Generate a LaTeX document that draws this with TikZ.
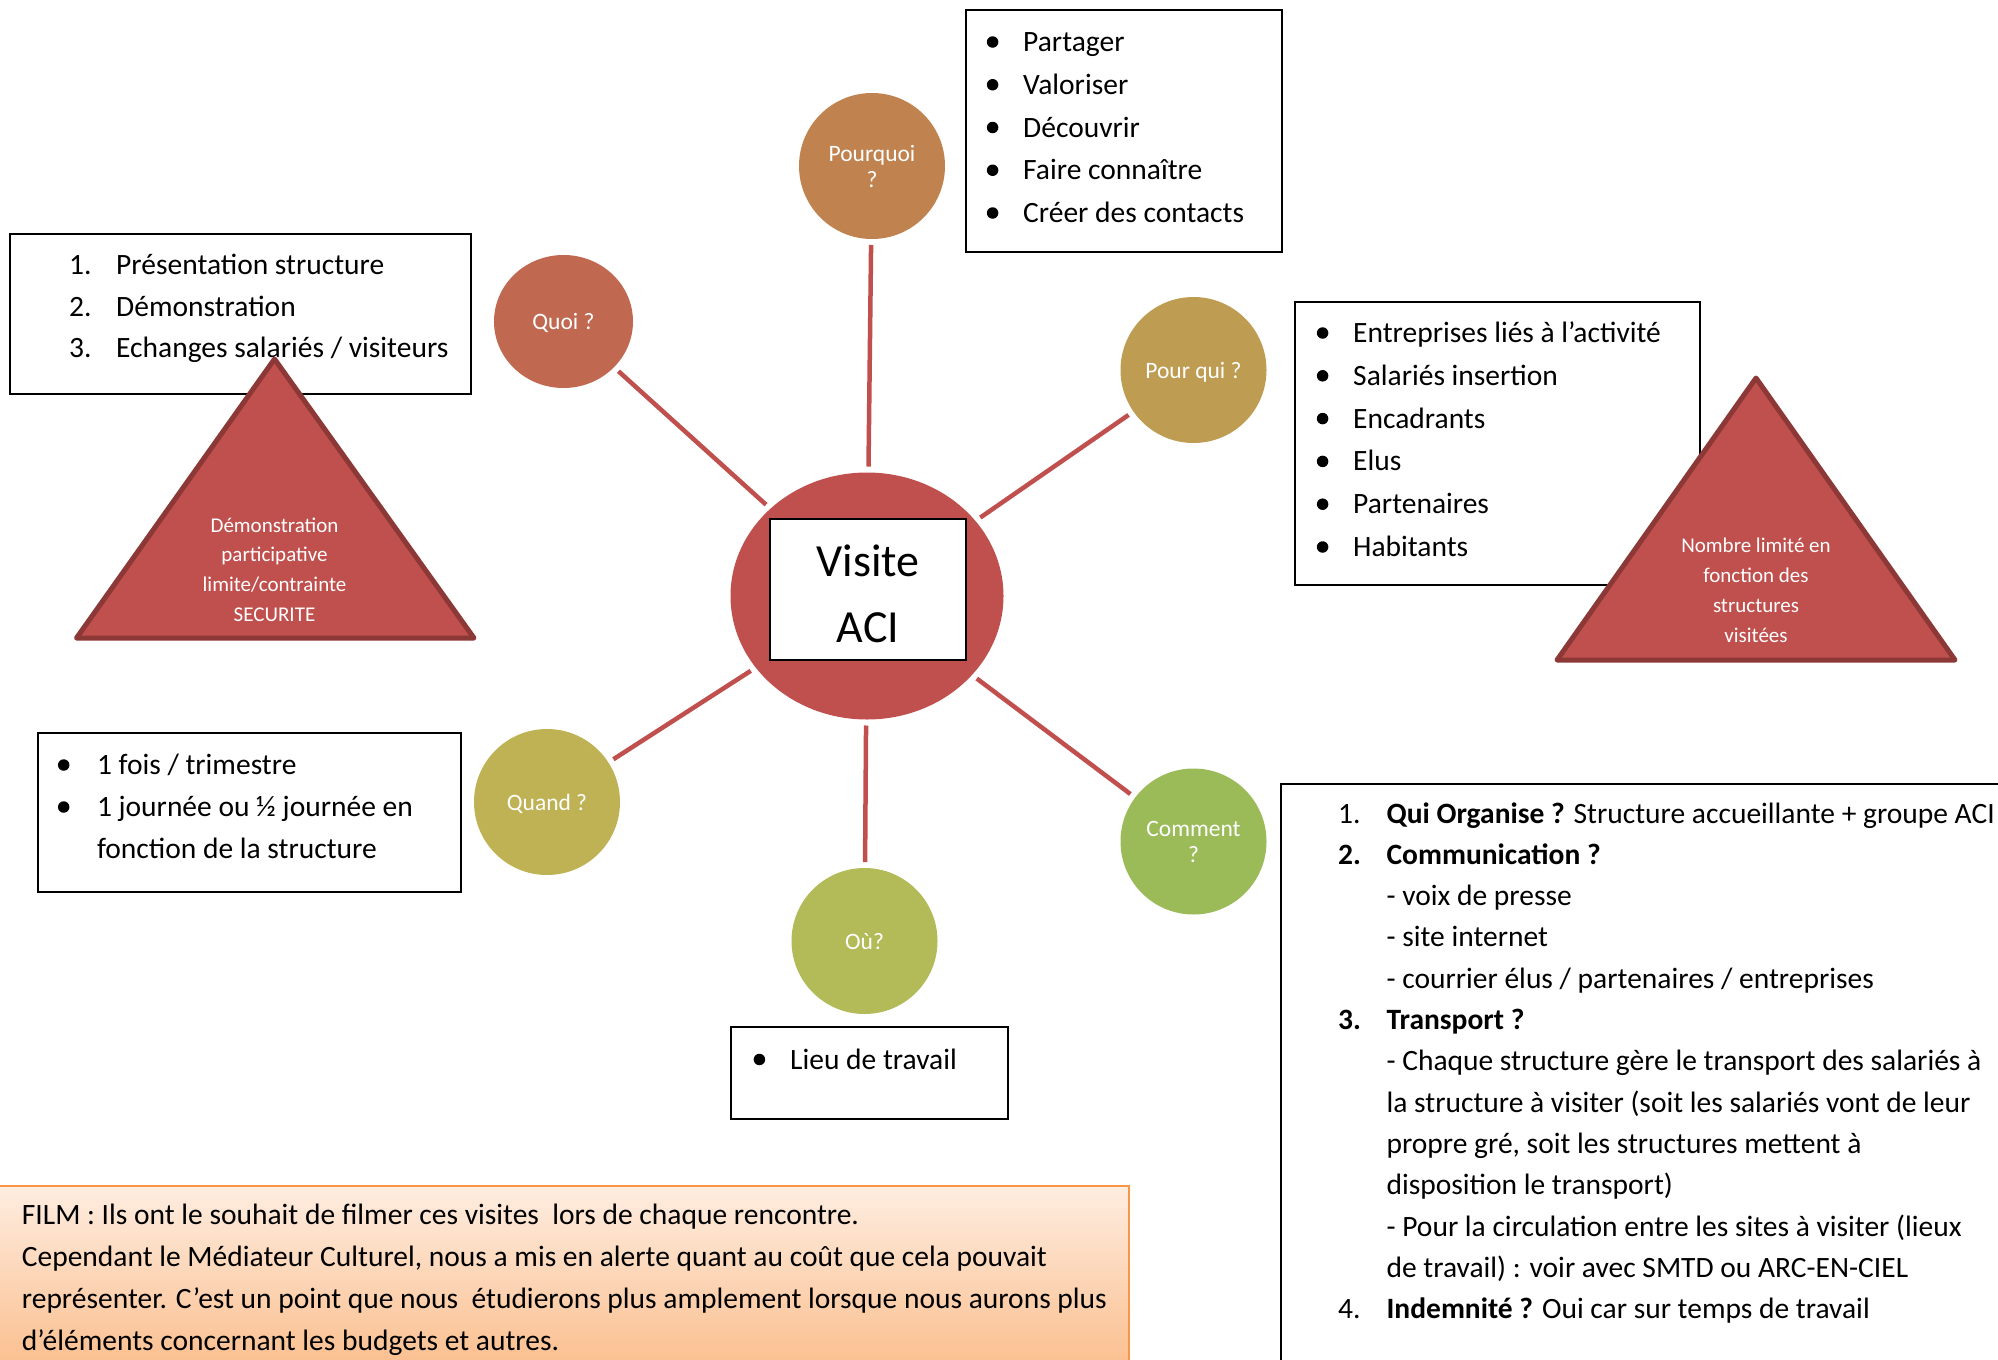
\documentclass[tikz,border=0pt]{standalone}
\usepackage{fontspec}
\setmainfont{Carlito}
\usetikzlibrary{shapes.geometric}
\definecolor{cRed}{HTML}{C0504D}
\definecolor{cRedDark}{HTML}{8C3836}
\definecolor{cQuoi}{HTML}{C06950}
\definecolor{cPourquoi}{HTML}{C08350}
\definecolor{cPourqui}{HTML}{BE9C52}
\definecolor{cComment}{HTML}{9BBB59}
\definecolor{cOu}{HTML}{B2BB58}
\definecolor{cQuand}{HTML}{BFB254}
\definecolor{filmTop}{RGB}{254,237,224}
\definecolor{filmBot}{RGB}{250,186,134}
\definecolor{filmLine}{HTML}{F79646}
\tikzset{
  conn/.style={draw=cRed, line width=4.5pt, shorten <=6pt, shorten >=6pt},
  bubble/.style={ellipse, inner sep=0pt, outer sep=0pt, minimum width=146pt, minimum height=146pt,
    text=white, align=center, font=\fontsize{23.5}{26}\selectfont, text depth=0pt},
  frame/.style={rectangle, draw=black, line width=2.2pt, fill=white, anchor=north west, inner sep=0pt, outer sep=0pt},
  itm/.style={anchor=base west, inner sep=0pt, font=\fontsize{29.5}{35}\selectfont},
  bul/.style={circle, fill=black, inner sep=0pt, minimum size=11.5pt},
  tri/.style={fill=cRed, draw=cRedDark, line width=5pt, line join=round},
  tritxt/.style={anchor=base, inner sep=0pt, text=white, font=\fontsize{21}{25}\selectfont},
  bigtxt/.style={anchor=base, inner sep=0pt, font=\fontsize{46}{55}\selectfont},
}
\begin{document}
\begin{tikzpicture}[x=1pt,y=-1pt]
\useasboundingbox (0,0) rectangle (1998,1360);
\clip (0,0) rectangle (1998,1360);

% ---------- boxes ----------
\node[frame, minimum width=316pt, minimum height=242pt] (whyBox) at (966,10) {};
\node[frame, minimum width=461pt, minimum height=160pt] (whatBox) at (10,234) {};
\node[frame, minimum width=405pt, minimum height=283pt] (whoBox) at (1295,302) {};
\node[frame, minimum width=423pt, minimum height=159pt] (whenBox) at (38,733) {};
\node[frame, minimum width=277pt, minimum height=92pt] (whereBox) at (731,1027) {};
\node[frame, minimum width=800pt, minimum height=700pt] (howBox) at (1280.6,783.6) {};
\node[rectangle, anchor=north west, inner sep=0pt, minimum width=1138pt, minimum height=200pt,
      top color=filmTop, bottom color=filmBot, draw=filmLine, line width=2pt] (filmBox) at (-10,1185) {};

% ---------- why list ----------
\foreach \t [count=\i] in {Partager,Valoriser,Découvrir,Faire connaître,Créer des contacts}{
  \pgfmathsetmacro{\yy}{51.5+42.75*(\i-1)}
  \node[bul] (whyB\i) at (992.6,\yy-9.5) {};
  \node[itm] (why\i) at (1023,\yy) {\t};
}

% ---------- what list ----------
\node[itm] (whatN1) at (69,274) {1.};
\node[itm] (what1) at (116,274) {Présentation structure};
\node[itm] (whatN2) at (69,316) {2.};
\node[itm] (what2) at (116,316) {Démonstration};
\node[itm] (whatN3) at (69,357) {3.};
\node[itm] (what3) at (116,357) {Echanges salariés / visiteurs};

% ---------- who list ----------
\foreach \t [count=\i] in {Entreprises liés à l’activité,Salariés insertion,Encadrants,Elus,Partenaires,Habitants}{
  \pgfmathsetmacro{\yy}{342.5+42.8*(\i-1)}
  \node[bul] (whoB\i) at (1322.6,\yy-9.5) {};
  \node[itm] (who\i) at (1353,\yy) {\t};
}

% ---------- when list ----------
\node[bul] (whenB1) at (63.7,765) {};
\node[itm] (when1) at (96.8,774.5) {1 fois / trimestre};
\node[bul] (whenB2) at (63.7,807) {};
\node[itm] (when2) at (96.8,816.5) {1 journée ou ½ journée en};
\node[itm] (when3) at (96.8,858.5) {fonction de la structure};

% ---------- where list ----------
\node[bul] (whereB1) at (759.4,1059.5) {};
\node[itm] (where1) at (790,1069) {Lieu de travail};

% ---------- how list ----------
\node[itm] (howN1) at (1338,823) {1.};
\node[itm] (how1) at (1386.4,823) {\textbf{Qui Organise ?} Structure accueillante + groupe ACI};
\node[itm] (howN2) at (1338,864.3) {\textbf{2.}};
\node[itm] (how2) at (1386.4,864.3) {\textbf{Communication ?}};
\node[itm] (how3) at (1386.4,905.6) {- voix de presse};
\node[itm] (how4) at (1386.4,946.9) {- site internet};
\node[itm] (how5) at (1386.4,988.2) {- courrier élus / partenaires / entreprises};
\node[itm] (howN3) at (1338,1029.5) {\textbf{3.}};
\node[itm] (how6) at (1386.4,1029.5) {\textbf{Transport ?}};
\node[itm] (how7) at (1386.4,1070.8) {- Chaque structure gère le transport des salariés à};
\node[itm] (how8) at (1386.4,1112.1) {la structure à visiter (soit les salariés vont de leur};
\node[itm] (how9) at (1386.4,1153.4) {propre gré, soit les structures mettent à};
\node[itm] (how10) at (1386.4,1194.7) {disposition le transport)};
\node[itm] (how11) at (1386.4,1236) {- Pour la circulation entre les sites à visiter (lieux};
\node[itm] (how12) at (1386.4,1277.3) {de travail) : voir avec SMTD ou ARC-EN-CIEL};
\node[itm] (howN4) at (1338,1318.6) {4.};
\node[itm] (how13) at (1386.4,1318.6) {\textbf{Indemnité ?} Oui car sur temps de travail};

% ---------- film text ----------
\node[itm] (film1) at (21.7,1224.5) {FILM : Ils ont le souhait de filmer ces visites\ \ lors de chaque rencontre.};
\node[itm] (film2) at (21.7,1266.5) {Cependant le Médiateur Culturel, nous a mis en alerte quant au coût que cela pouvait};
\node[itm] (film3) at (21.7,1308) {représenter. C’est un point que nous\ \ étudierons plus amplement lorsque nous aurons plus};
\node[itm] (film4) at (21.7,1350) {d’éléments concernant les budgets et autres.};

% ---------- triangles ----------
\filldraw[tri] (274.5,359) -- (76.5,638) -- (474,638) -- cycle;
\node[tritxt] (triL1) at (274.5,532) {Démonstration};
\node[tritxt] (triL2) at (274.5,561.7) {participative};
\node[tritxt] (triL3) at (274.5,591.4) {limite/contrainte};
\node[tritxt] (triL4) at (274.5,621.1) {SECURITE};

\filldraw[tri] (1756,378) -- (1557,660) -- (1955,660) -- cycle;
\node[tritxt] (triR1) at (1756,552.3) {Nombre limité en};
\node[tritxt] (triR2) at (1756,582.3) {fonction des};
\node[tritxt] (triR3) at (1756,612.3) {structures};
\node[tritxt] (triR4) at (1756,642.3) {visitées};

% ---------- central ----------
\node[ellipse, fill=cRed, inner sep=0pt, outer sep=0pt, minimum width=273pt, minimum height=247pt] (aci) at (867,596) {};
\node[rectangle, draw=black, line width=2.5pt, fill=white, inner sep=0pt, minimum width=196pt, minimum height=141pt] (aciBox) at (868,589.5) {};
\node[bigtxt] (visite) at (868,576.5) {Visite};
\node[bigtxt] (aciTxt) at (868,642) {ACI};

% ---------- bubbles ----------
\node[bubble, fill=cPourquoi] (pourquoi) at (872,166) {Pourquoi\\?};
\node[bubble, fill=cQuoi, minimum width=139pt, minimum height=133pt] (quoi) at (563.5,321.5) {Quoi ?};
\node[bubble, fill=cPourqui] (pourqui) at (1193.5,370) {Pour qui ?};
\node[bubble, fill=cComment] (comment) at (1193.5,841.5) {Comment\\?};
\node[bubble, fill=cOu] (ou) at (864.5,941) {Où?};
\node[bubble, fill=cQuand] (quand) at (547,802) {Quand ?};

% ---------- connectors ----------
\draw[conn] (pourquoi) -- (aci);
\draw[conn] (quoi) -- (aci);
\draw[conn] (pourqui) -- (aci);
\draw[conn] (quand) -- (aci);
\draw[conn] (ou) -- (aci);
\draw[conn] (comment) -- (aci);
\end{tikzpicture}
\end{document}
